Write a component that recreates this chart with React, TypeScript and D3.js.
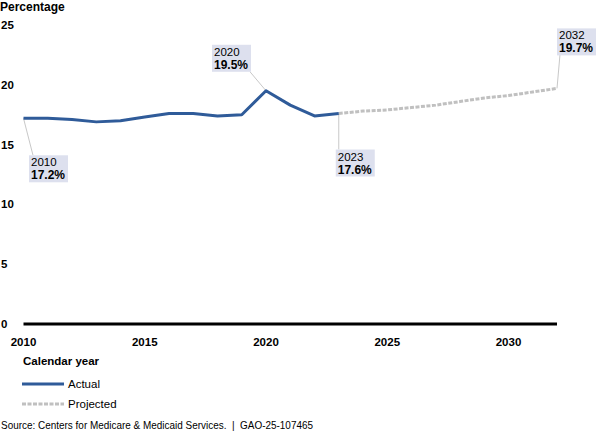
import React from 'react';
import * as d3 from 'd3';

const actualYears = [2010, 2011, 2012, 2013, 2014, 2015, 2016, 2017, 2018, 2019, 2020, 2021, 2022, 2023];
const actualValues = [17.2, 17.2, 17.1, 16.9, 17.0, 17.3, 17.6, 17.6, 17.4, 17.5, 19.5, 18.3, 17.4, 17.6];

const projectedYears = [2023, 2024, 2025, 2026, 2027, 2028, 2029, 2030, 2031, 2032];
const projectedValues = [17.6, 17.8, 17.9, 18.1, 18.3, 18.6, 18.9, 19.1, 19.4, 19.7];

const yTicks = [0, 5, 10, 15, 20, 25];
const xTicks = [2010, 2015, 2020, 2025, 2030];

// box offset from the data point, and where the leader meets the box
const callouts = [
  { year: 2010, value: 17.2, label: '17.2%', dx: 5.5, dy: 37, lx: 4, ly: 0 },
  { year: 2020, value: 19.5, label: '19.5%', dx: -54, dy: -46, lx: 38, ly: 27 },
  { year: 2023, value: 17.6, label: '17.6%', dx: -3, dy: 36, lx: 3, ly: 0 },
  { year: 2032, value: 19.7, label: '19.7%', dx: 0, dy: -60, lx: 3, ly: 26 },
];

const W = 600;
const H = 431;
const FONT = 'Arial, "Liberation Sans", sans-serif';
const BLUE = '#2f5b99';
const GRAY = '#c0c0c0';

export default function App() {
  const x = d3.scaleLinear().domain([2010, 2032]).range([23.5, 557]);
  const y = d3.scaleLinear().domain([0, 25]).range([324, 25]);

  const lineGen = d3.line<[number, number]>()
    .x(d => x(d[0]))
    .y(d => y(d[1]));
  const actualPath = lineGen(actualYears.map((yr, i) => [yr, actualValues[i]]));
  const projPath = lineGen(projectedYears.map((yr, i) => [yr, projectedValues[i]]));

  return (
    <svg width={W} height={H} style={{ position: 'absolute', left: 0, top: 0, background: '#fff' }}
      fontFamily={FONT}>
      <text x={0} y={11} fontSize={12} fontWeight="bold">Percentage</text>

      {yTicks.map(t => (
        <text key={t} x={1} y={y(t)} dy="0.35em" fontSize={11.5} fontWeight="bold">{t}</text>
      ))}

      <line x1={x(2010)} x2={x(2032)} y1={y(0)} y2={y(0)} stroke="#000" strokeWidth={3} />

      {xTicks.map(t => (
        <text key={t} x={x(t)} y={342} dy="0.35em" textAnchor="middle" fontSize={11.5} fontWeight="bold">{t}</text>
      ))}

      <text x={23} y={361} dy="0.35em" fontSize={11.5} fontWeight="bold">Calendar year</text>

      {callouts.map(c => {
        const px = x(c.year);
        const py = y(c.value);
        return <line key={'l' + c.year} x1={px} y1={py} x2={px + c.dx + c.lx} y2={py + c.dy + c.ly}
          stroke="#c8c8c8" strokeWidth={1} />;
      })}

      <path d={projPath || ''} fill="none" stroke={GRAY} strokeWidth={3} strokeDasharray="4,1.5" />
      <path d={actualPath || ''} fill="none" stroke={BLUE} strokeWidth={3} strokeLinejoin="round" />

      {callouts.map(c => {
        const bx = x(c.year) + c.dx;
        const by = y(c.value) + c.dy;
        return (
          <g key={c.year}>
            <rect x={bx} y={by} width={39} height={27} fill="#dde0ee" />
            <text x={bx + 2} y={by + 11} fontSize={11.5}>{c.year}</text>
            <text x={bx + 2} y={by + 24} fontSize={12} fontWeight="bold">{c.label}</text>
          </g>
        );
      })}

      <line x1={22} x2={64} y1={384} y2={384} stroke={BLUE} strokeWidth={3} />
      <text x={68} y={384} dy="0.35em" fontSize={11.5}>Actual</text>
      <line x1={22} x2={64} y1={404} y2={404} stroke={GRAY} strokeWidth={3} strokeDasharray="4,1.5" />
      <text x={68} y={404} dy="0.35em" fontSize={11.5}>Projected</text>

      <text x={1} y={425} dy="0.35em" fontSize={11} textLength={312} lengthAdjust="spacingAndGlyphs"
        style={{ whiteSpace: 'pre' }}>
        {'Source: Centers for Medicare & Medicaid Services.  |  GAO-25-107465'}
      </text>
    </svg>
  );
}
